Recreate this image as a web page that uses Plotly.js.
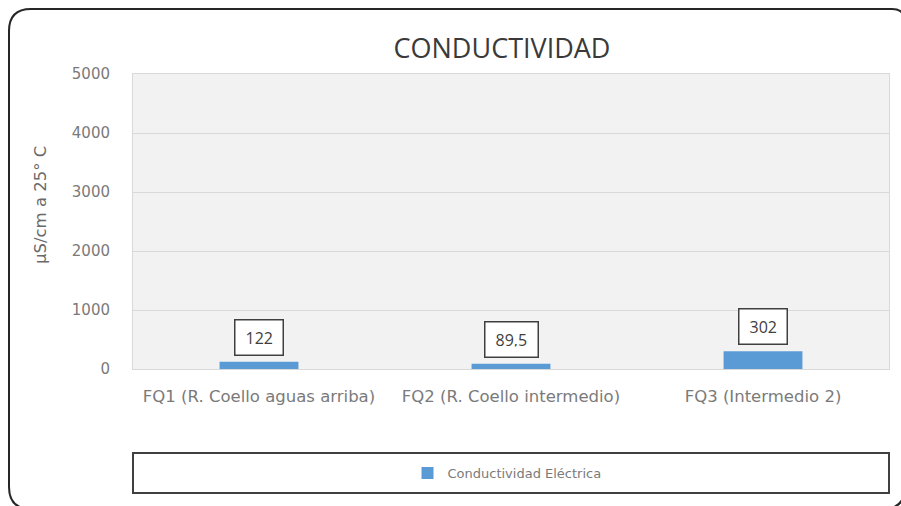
<!DOCTYPE html>
<html>
<head>
<meta charset="utf-8">
<script src="https://cdn.plot.ly/plotly-3.0.1.min.js"></script>
<style>
  html, body { margin: 0; padding: 0; background: #ffffff; }
  #chart { width: 901px; height: 506px; }
</style>
</head>
<body>
<div id="chart"></div>
<script>
// ---- data ----
const categories = [
  "FQ1 (R. Coello aguas arriba)",
  "FQ2 (R. Coello intermedio)",
  "FQ3 (Intermedio 2)"
];
const conductividad = [122, 89.5, 302];
const seriesName = "Conductividad Eléctrica";
const chartTitle = "CONDUCTIVIDAD";
const yTitle = "µS/cm a 25° C";
const yTickVals = [0, 1000, 2000, 3000, 4000, 5000];

// ---- layout geometry (pixels) ----
const W = 901, H = 506;
const L = 133, R = 889, T = 74, B = 369;
const px = x => (x - L) / (R - L);
const py = y => (B - y) / (B - T);

// rounded outer frame
const fx0 = 9, fy0 = 9, fx1 = 905, fy1 = 509, rr = 22, rr2 = 13;
const framePath =
  `M ${px(fx0)},${py(fy0 + rr)} ` +
  `Q ${px(fx0)},${py(fy0)} ${px(fx0 + rr)},${py(fy0)} ` +
  `L ${px(fx1 - rr2)},${py(fy0)} ` +
  `Q ${px(fx1)},${py(fy0)} ${px(fx1)},${py(fy0 + rr2)} ` +
  `L ${px(fx1)},${py(fy1 - rr)} ` +
  `Q ${px(fx1)},${py(fy1)} ${px(fx1 - rr)},${py(fy1)} ` +
  `L ${px(fx0 + rr)},${py(fy1)} ` +
  `Q ${px(fx0)},${py(fy1)} ${px(fx0)},${py(fy1 - rr)} Z`;

const labelText = conductividad.map(v => String(v).replace('.', ','));

const tickFont = 'DejaVu Sans, sans-serif';
const tickColor = '#7a7a7a';

const trace = {
  type: 'bar',
  x: categories,
  y: conductividad,
  name: seriesName,
  marker: { color: '#5b9bd5' },
  hoverinfo: 'x+y'
};

const annotations = categories.map((c, i) => ({
  x: c, y: conductividad[i], xref: 'x', yref: 'y',
  text: labelText[i],
  showarrow: false,
  yanchor: 'bottom', xanchor: 'center',
  yshift: 6,
  font: { family: 'Open Sans, sans-serif', size: 16, color: '#404040' },
  bgcolor: '#ffffff',
  bordercolor: '#404040',
  borderwidth: 1.5,
  borderpad: 10,
  height: 14
}));

annotations.push({
  xref: 'paper', yref: 'paper',
  x: px(40), y: py(205),
  text: yTitle, textangle: -90,
  showarrow: false, xanchor: 'center', yanchor: 'middle',
  font: { family: tickFont, size: 16.5, color: '#6a6a6a' }
});

const layout = {
  width: W, height: H,
  margin: { l: L, r: W - R, t: T, b: H - B, pad: 0 },
  paper_bgcolor: '#ffffff',
  plot_bgcolor: '#f2f2f2',
  title: {
    text: chartTitle,
    x: 502 / W, xanchor: 'center', xref: 'container',
    y: 1 - 49 / H, yanchor: 'middle', yref: 'container',
    font: { family: 'Open Sans, sans-serif', size: 27, color: '#3a3a3a', weight: 400 }
  },
  showlegend: true,
  legend: {
    orientation: 'h',
    x: px(507), xanchor: 'center',
    y: py(473), yanchor: 'middle',
    bgcolor: 'rgba(0,0,0,0)',
    borderwidth: 0,
    font: { family: tickFont, size: 13, color: tickColor }
  },
  bargap: 0.687,
  xaxis: {
    type: 'category',
    showgrid: false,
    showline: true, linecolor: '#d9d9d9', linewidth: 1, mirror: true,
    ticks: '',
    ticklabelstandoff: 12,
    tickfont: { family: tickFont, size: 16.5, color: tickColor },
    automargin: false,
    fixedrange: true
  },
  yaxis: {
    range: [0, 5000],
    tickvals: yTickVals,
    ticktext: yTickVals.map(String),
    showgrid: true, gridcolor: '#d9d9d9', gridwidth: 1,
    zeroline: true, zerolinecolor: '#d9d9d9', zerolinewidth: 1,
    showline: true, linecolor: '#d9d9d9', linewidth: 1, mirror: true,
    ticks: '',
    ticklabelstandoff: 19,
    tickfont: { family: tickFont, size: 15, color: tickColor },
    automargin: false,
    fixedrange: true
  },
  shapes: [
    {
      type: 'rect', xref: 'paper', yref: 'paper',
      x0: 0, x1: 1, y0: py(493), y1: py(453),
      line: { color: '#404040', width: 2 },
      fillcolor: 'rgba(0,0,0,0)',
      layer: 'above'
    },
    {
      type: 'path', xref: 'paper', yref: 'paper',
      path: framePath,
      line: { color: '#262626', width: 2 },
      fillcolor: 'rgba(0,0,0,0)',
      layer: 'above'
    }
  ],
  annotations: annotations
};

Plotly.newPlot('chart', [trace], layout, { displayModeBar: false, staticPlot: true });
</script>
</body>
</html>
